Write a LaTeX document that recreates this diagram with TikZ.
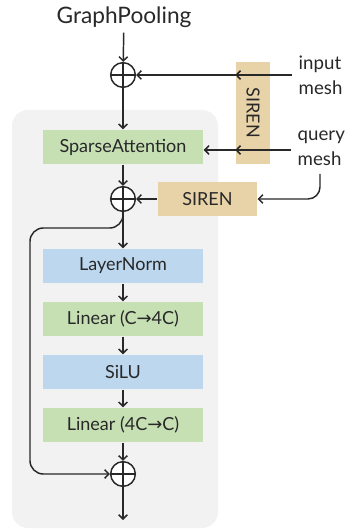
\documentclass[tikz,border=0pt]{standalone}
\usepackage{fontspec}
\usetikzlibrary{arrows.meta}
\setmainfont{Lato}
\newfontfamily\symfont{DejaVu Sans}
\newcommand{\toarr}{{\symfont\char"2192}}
\definecolor{boxgreen}{RGB}{198,224,180}
\definecolor{boxblue}{RGB}{189,215,238}
\definecolor{boxtan}{RGB}{232,210,168}
\definecolor{bggray}{RGB}{242,242,242}
\definecolor{ink}{RGB}{40,40,40}

\begin{document}
\begin{tikzpicture}[x=0.75pt, y=-0.75pt,
    line width=1.1pt, draw=ink,
    layer/.style={rectangle, minimum width=120pt, minimum height=25.5pt, inner sep=0pt, text=ink, font=\fontsize{13.5}{15}\selectfont},
    greenbox/.style={layer, fill=boxgreen},
    bluebox/.style={layer, fill=boxblue},
    sirenbox/.style={rectangle, fill=boxtan, inner sep=0pt, text=ink, font=\fontsize{13.5}{15}\selectfont},
    addop/.style={circle, draw=ink, line width=1.1pt, fill=white, minimum size=18.5pt, inner sep=0pt,
        path picture={\draw[ink, line width=1.1pt] (path picture bounding box.north) -- (path picture bounding box.south)
            (path picture bounding box.west) -- (path picture bounding box.east);}},
    lbl/.style={text=ink, font=\fontsize{14}{19}\selectfont, align=left, inner sep=0pt},
    >={Straight Barb[length=3.2pt, width=6.5pt]}]
        \useasboundingbox (0,0) rectangle (344,530);

        % Background
        \fill[bggray, rounded corners=12pt] (12,110) rectangle (218,528);

        % Nodes
        \node (gp) at (124,17) [text=ink, font=\fontsize{17}{19}\selectfont] {GraphPooling};
        \node (p1) at (123,75) [addop] {};
        \node (sa) at (123,147) [greenbox] {SparseAttention};
        \node (p2) at (123,199) [addop] {};
        \node (ln) at (123,266) [bluebox] {LayerNorm};
        \node (lin1) at (123,319) [greenbox] {Linear (C\toarr4C)};
        \node (act) at (123,372) [bluebox] {SiLU};
        \node (lin2) at (123,425) [greenbox] {Linear (4C\toarr C)};
        \node (p3) at (123,474) [addop] {};
        \coordinate (out) at (123,520);

        \node (sirenA) at (253,113) [sirenbox, minimum width=77pt, minimum height=25.5pt, rotate=-90] {SIREN};
        \node (sirenB) at (207.5,199) [sirenbox, minimum width=74pt, minimum height=25pt] {SIREN};

        \node (im) at (298,75) [lbl, anchor=west] {input\\mesh};
        \node (qm) at (297,148) [lbl, anchor=west] {query\\mesh};

        % Edges
        \draw[->] (gp) -- (p1);
        \draw[->] (p1) -- (sa);
        \draw[->] (sa) -- (p2);
        \draw[->] (p2) -- (ln);
        \draw[->] (ln) -- (lin1);
        \draw[->] (lin1) -- (act);
        \draw[->] (act) -- (lin2);
        \draw[->] (lin2) -- (p3);
        \draw[->] (p3) -- (out);

        \draw[->] (im.west |- 0,75) ++(-6,0) -- (sirenA.south |- 0,75);
        \draw[->] (qm.west |- 0,150) ++(-6,0) -- (sirenA.south |- 0,150);
        \draw[->] (sirenA.north |- 0,75) -- (p1);
        \draw[->] (sirenA.north |- 0,150) -- (sa.east |- 0,150);
        \draw[->, rounded corners=9pt] (320,174) |- (sirenB.east);
        \draw[->] (sirenB) -- (p2);

        % Skip
        \draw[->, rounded corners=10pt] (p2.south) |- (30,228) -- (30,474) -- (p3.west);
    \end{tikzpicture}
\end{document}
